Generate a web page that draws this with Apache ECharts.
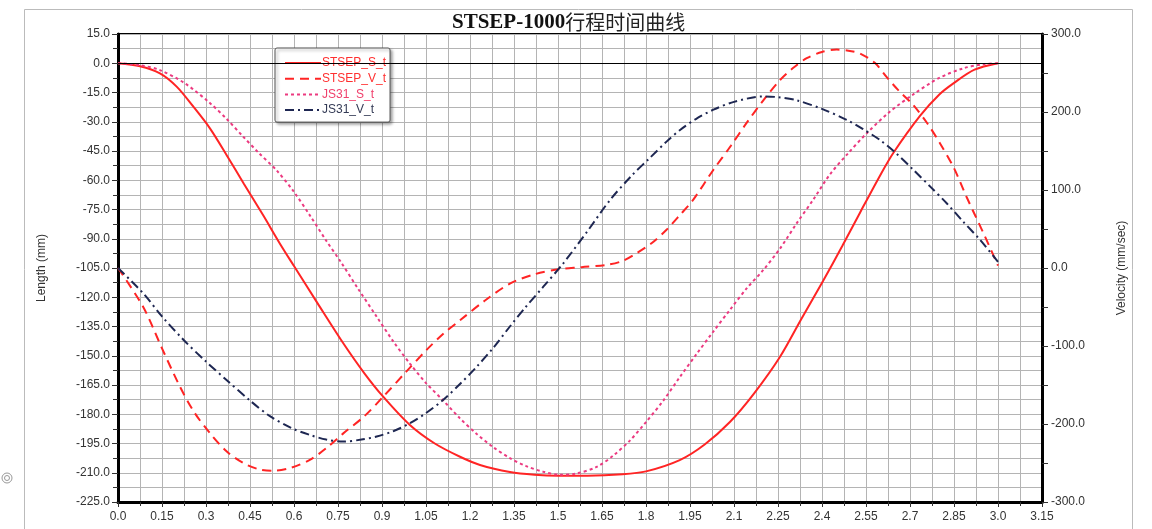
<!DOCTYPE html>
<html>
<head>
<meta charset="utf-8">
<script src="https://cdn.jsdelivr.net/npm/echarts@6/dist/echarts.min.js"></script>
<style>
  html, body { margin: 0; padding: 0; background: #fff; }
  #chart { width: 1152px; height: 529px; }
</style>
</head>
<body>
<div id="chart"></div>
<script>
// [time (s), length (mm)]
const stsepS = [[0,0],[0.075,-1.5],[0.143,-5.2],[0.2,-12],[0.257,-22.3],[0.314,-33.5],[0.37,-47],[0.43,-62],[0.495,-78],[0.55,-92],[0.6,-104],[0.68,-123],[0.768,-143.6],[0.84,-159],[0.904,-171],[0.995,-185.5],[1.08,-195],[1.166,-201.8],[1.234,-206],[1.336,-209.6],[1.42,-211],[1.5,-211.5],[1.6,-211.5],[1.72,-210.8],[1.8,-209.3],[1.915,-203.5],[2.0,-195.5],[2.086,-184],[2.17,-169],[2.257,-150.5],[2.33,-131],[2.404,-111.5],[2.47,-93.5],[2.53,-76.5],[2.6,-57],[2.643,-46],[2.734,-27],[2.8,-16],[2.848,-10.3],[2.92,-3.3],[3.0,0]]
const js31S = [[0,0],[0.075,-1],[0.143,-3.5],[0.23,-10.5],[0.314,-20.5],[0.37,-28.5],[0.427,-37.7],[0.48,-46],[0.541,-55],[0.6,-66],[0.654,-78],[0.71,-91],[0.76,-102],[0.82,-116],[0.882,-130],[0.94,-143],[0.995,-154],[1.05,-164],[1.109,-173],[1.165,-182],[1.222,-190],[1.28,-197],[1.336,-202.5],[1.39,-206.5],[1.45,-209.5],[1.507,-211],[1.56,-210.5],[1.632,-207],[1.69,-201],[1.745,-193.5],[1.8,-184],[1.859,-173],[1.915,-161],[1.973,-149],[2.03,-137.5],[2.086,-126.5],[2.143,-115.5],[2.2,-106],[2.257,-95],[2.314,-82],[2.37,-70],[2.427,-57],[2.49,-46],[2.552,-36],[2.63,-25],[2.711,-16],[2.8,-7.5],[2.882,-2.6],[2.95,-0.5],[3.0,0]]

// [time (s), velocity (mm/sec)]
const stsepV = [[0,0],[0.086,-50],[0.15,-103],[0.211,-152],[0.26,-185],[0.314,-212],[0.37,-235],[0.427,-250],[0.48,-258],[0.53,-260],[0.59,-256],[0.654,-246],[0.71,-231],[0.768,-212],[0.84,-190],[0.904,-165],[0.98,-134],[1.052,-105],[1.11,-84],[1.166,-67],[1.25,-42],[1.336,-20],[1.42,-8],[1.495,-2],[1.58,1],[1.666,4],[1.72,9],[1.768,19],[1.82,32],[1.87,49],[1.916,68],[1.96,87],[2.03,126],[2.09,157],[2.143,186],[2.2,215],[2.257,241],[2.3,256],[2.348,269],[2.4,277],[2.45,280],[2.5,278],[2.53,275],[2.58,263],[2.62,245],[2.66,228],[2.711,209],[2.76,185],[2.802,160],[2.85,128],[2.893,91],[2.95,45],[3.0,3]]
const js31V = [[0,0],[0.086,-32.5],[0.15,-62],[0.223,-92],[0.3,-120],[0.37,-143.6],[0.45,-170],[0.518,-190],[0.59,-205],[0.654,-214],[0.71,-220],[0.768,-222.5],[0.83,-220],[0.882,-216],[0.94,-209],[0.995,-199],[1.05,-186],[1.109,-169],[1.165,-149],[1.222,-127],[1.28,-102],[1.336,-75],[1.39,-50],[1.45,-24],[1.518,6],[1.6,47],[1.677,87],[1.75,118],[1.81,140],[1.87,162],[1.916,177],[1.97,191],[2.03,203],[2.1,213],[2.2,220],[2.25,219],[2.314,215],[2.4,204],[2.484,190],[2.54,178],[2.598,164],[2.65,148],[2.711,126],[2.77,104],[2.825,83],[2.88,60],[2.939,36],[3.0,8]]

const seriesNames = ['STSEP_S_t', 'STSEP_V_t', 'JS31_S_t', 'JS31_V_t']
const seriesColors = ['#ff2424', '#ff2424', '#ec3a80', '#1e2752']
const legendColors = ['#ff3030', '#ff3030', '#f0406c', '#333a55']

const chart = echarts.init(document.getElementById('chart'))

const gridLine = { show: true, lineStyle: { color: '#b4b4b4', width: 1 } }
const labelFont = { color: '#333', fontSize: 12, fontFamily: 'Liberation Sans, Arial, sans-serif' }

const option = {
    backgroundColor: '#fff',
    animation: false,
    title: {
        left: 447,
        top: 7,
        text: '{a|STSEP-1000}{b|行程时间曲线}',
        textStyle: {
            rich: {
                a: { fontFamily: 'Liberation Serif', fontWeight: 'bold', fontSize: 21, color: '#111' },
                b: { fontFamily: 'Noto Sans CJK SC', fontWeight: 'normal', fontSize: 20, color: '#222' }
            }
        }
    },
    legend: {
        left: 275,
        top: 48,
        orient: 'vertical',
        itemWidth: 36,
        itemHeight: 12,
        itemGap: 3.7,
        padding: [9, 4, 6, 9],
        backgroundColor: '#fff',
        borderColor: '#555',
        borderWidth: 1,
        borderRadius: 2,
        shadowColor: 'rgba(0,0,0,0.35)',
        shadowBlur: 3,
        shadowOffsetX: 2,
        shadowOffsetY: 2,
        itemStyle: { opacity: 0 },
        textStyle: { fontSize: 12, fontFamily: 'Liberation Sans, Arial, sans-serif', padding: [0, 0, 0, -4] },
        data: seriesNames.map((n, i) => ({ name: n, textStyle: { color: legendColors[i] } }))
    },
    grid: {
        left: 118,
        right: 110,
        top: 34,
        bottom: 27,
        show: true,
        borderColor: '#000',
        borderWidth: 2,
        backgroundColor: '#fff'
    },
    graphic: [
        {
            type: 'rect',
            shape: { x: 24.5, y: 9.5, width: 1108, height: 520 },
            style: { fill: 'none', stroke: '#bbb', lineWidth: 1 },
            silent: true
        },
        {
            type: 'circle',
            shape: { cx: 7, cy: 478, r: 5 },
            style: { fill: 'none', stroke: '#999', lineWidth: 1 },
            silent: true
        },
        {
            type: 'circle',
            shape: { cx: 7, cy: 478, r: 2.5 },
            style: { fill: 'none', stroke: '#999', lineWidth: 1 },
            silent: true
        }
    ],
    xAxis: {
        type: 'value',
        min: 0,
        max: 3.15,
        interval: 0.15,
        axisLine: { show: true, onZero: false, lineStyle: { color: '#000', width: 3 } },
        axisTick: { show: true, length: 5, lineStyle: { color: '#333' } },
        minorTick: { show: true, splitNumber: 2, length: 4, lineStyle: { color: '#333' } },
        splitLine: gridLine,
        minorSplitLine: gridLine,
        axisLabel: Object.assign({
            margin: 9,
            formatter: v => {
                const r = Math.round(v * 100)
                return r % 10 === 0 ? (r / 100).toFixed(1) : (r / 100).toFixed(2)
            }
        }, labelFont)
    },
    yAxis: [
        {
            type: 'value',
            min: -225,
            max: 15,
            interval: 15,
            name: 'Length (mm)',
            nameLocation: 'middle',
            nameRotate: 90,
            nameGap: 70,
            nameTextStyle: labelFont,
            axisLine: { show: true, lineStyle: { color: '#000', width: 3 } },
            axisTick: { show: true, length: 6, lineStyle: { color: '#333' } },
            minorTick: { show: true, splitNumber: 2, length: 5, lineStyle: { color: '#333' } },
            splitLine: gridLine,
            minorSplitLine: gridLine,
            axisLabel: Object.assign({ margin: 8, formatter: v => v.toFixed(1) }, labelFont)
        },
        {
            type: 'value',
            min: -300,
            max: 300,
            interval: 100,
            position: 'right',
            name: 'Velocity (mm/sec)',
            nameLocation: 'middle',
            nameRotate: 90,
            nameGap: 74,
            nameTextStyle: labelFont,
            axisLine: { show: true, lineStyle: { color: '#000', width: 3 } },
            axisTick: { show: true, length: 6, lineStyle: { color: '#333' } },
            minorTick: { show: true, splitNumber: 2, length: 6, lineStyle: { color: '#333' } },
            splitLine: { show: false },
            axisLabel: Object.assign({ margin: 9, formatter: v => v.toFixed(1) }, labelFont)
        }
    ],
    series: [
        {
            name: seriesNames[0],
            type: 'line',
            yAxisIndex: 0,
            data: stsepS,
            symbol: 'none',
            smooth: 0.3,
            color: seriesColors[0],
            lineStyle: { width: 2, type: 'solid' },
            markLine: {
                silent: true,
                symbol: 'none',
                label: { show: false },
                lineStyle: { color: '#000', width: 1, type: 'solid' },
                data: [{ yAxis: 0 }]
            }
        },
        {
            name: seriesNames[1],
            type: 'line',
            yAxisIndex: 1,
            data: stsepV,
            symbol: 'none',
            smooth: 0.3,
            color: seriesColors[1],
            lineStyle: { width: 2, type: [9, 6] }
        },
        {
            name: seriesNames[2],
            type: 'line',
            yAxisIndex: 0,
            data: js31S,
            symbol: 'none',
            smooth: 0.3,
            color: seriesColors[2],
            lineStyle: { width: 2, type: [3, 3] }
        },
        {
            name: seriesNames[3],
            type: 'line',
            yAxisIndex: 1,
            data: js31V,
            symbol: 'none',
            smooth: 0.3,
            color: seriesColors[3],
            lineStyle: { width: 2, type: [9, 4, 2, 4] }
        }
    ]
}

chart.setOption(option)
</script>
</body>
</html>
